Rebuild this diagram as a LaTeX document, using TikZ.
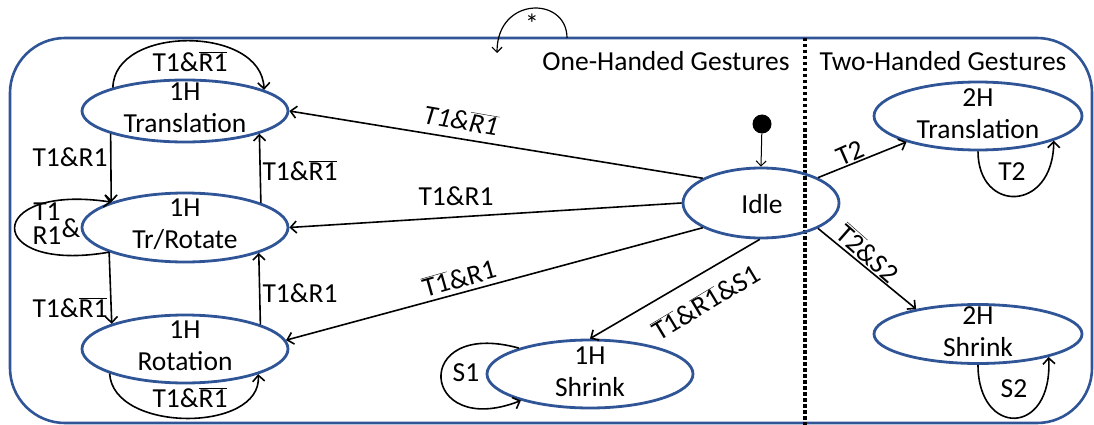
\documentclass[tikz,border=0pt]{standalone}
\usepackage{fontspec}
\setmainfont{Carlito}
\usetikzlibrary{arrows.meta,shapes.geometric}
\definecolor{sblue}{RGB}{47,85,151}
\newcommand{\ovl}[1]{$\overline{\mbox{#1}}$}
\begin{document}
\begin{tikzpicture}[x=1pt,y=-1pt,
  st/.style={ellipse,draw=sblue,line width=2.8pt,inner sep=0pt},
  tx/.style={font=\fontsize{27.5}{32}\selectfont,align=center,inner sep=0pt},
  lb/.style={font=\fontsize{27.5}{32}\selectfont,inner sep=0pt},
  arr/.style={line width=1.6pt,-{Straight Barb[length=6pt,width=12pt]}},
  loop/.style={line width=1.6pt,-{Straight Barb[length=6pt,width=12pt]}},
]
\useasboundingbox (0,0) rectangle (1094,425);
% frame
\draw[sblue,line width=2.6pt,rounded corners=55pt] (10,38) rectangle (1092,423);
\draw[line width=3.5pt,dash pattern=on 3.5pt off 2.5pt] (805,38) -- (805,425);
\node[lb] (h1) at (666,61) {One-Handed Gestures};
\node[lb] (h2) at (943,61) {Two-Handed Gestures};

% states
\node[st,minimum width=206pt,minimum height=62pt] (n1t) at (185,111) {};
\node[st,minimum width=206pt,minimum height=69pt] (n1tr) at (185,227.5) {};
\node[st,minimum width=206pt,minimum height=68pt] (n1r) at (185,349) {};
\node[st,minimum width=206pt,minimum height=68pt] (n1s) at (590,374) {};
\node[st,minimum width=156pt,minimum height=70pt] (idle) at (761,203) {};
\node[st,minimum width=208pt,minimum height=68pt] (n2t) at (978,116) {};
\node[st,minimum width=208pt,minimum height=59pt] (n2s) at (978,334) {};

\node[tx] (n1tT) at (185,108) {1H\\Translation};
\node[tx] (n1trT) at (185,224) {1H\\Tr/Rotate};
\node[tx] (n1rT) at (185,346) {1H\\Rotation};
\node[tx] (n1sT) at (590,372) {1H\\Shrink};
\node[tx] (idleT) at (762,204) {Idle};
\node[tx] (n2tT) at (978,114) {2H\\Translation};
\node[tx] (n2sT) at (978,332) {2H\\Shrink};

% initial
\node[circle,fill,inner sep=0pt,minimum size=19pt] (init) at (762,124) {};
\draw[line width=1pt,-{Straight Barb[length=5pt,width=10pt]}] (init) -- (idle.north);

% idle transitions
\draw[arr] (idle.157) -- (n1t.east);
\draw[arr] (idle.180) -- (n1tr.east);
\draw[arr] (idle.203) -- (n1r.5);
\draw[arr] (idle.268) -- (n1s.north);
\draw[arr] (idle.24) -- (n2t.200);
\draw[arr] (idle.336) -- (n2s.158);

\node[lb,rotate=-9.8] (l1) at (461,120) {\itshape T1\&\ovl{R1}};
\node[lb] (l2) at (456,196) {T1\&R1};
\node[lb,rotate=15.8] (l3) at (459,278) {\ovl{T1}\&R1};
\node[lb,rotate=31] (l4) at (706,302) {\ovl{T1}\&\ovl{R1}\&S1};
\node[lb,rotate=23.7] (l5) at (850,153) {T2};
\node[lb,rotate=-41.5] (l6) at (868,253) {\ovl{T2}\&S2};

% vertical transitions
\draw[arr] (n1t.197) -- (n1tr.161.1);
\draw[arr] (n1tr.18.4) -- (n1t.343.3);
\draw[arr] (n1tr.198.9) -- (n1r.161.4);
\draw[arr] (n1r.18.2) -- (n1tr.341.6);
\node[lb] (l7) at (70,157) {T1\&R1};
\node[lb] (l8) at (300,171) {T1\&\ovl{R1}};
\node[lb] (l9) at (70,308) {T1\&\ovl{R1}};
\node[lb] (l10) at (300,293) {T1\&R1};

% self loops
\draw[loop] (n1t.162) .. controls (114,25) and (262,25) .. (n1t.15);
\node[lb] (l11) at (190,62) {T1\&\ovl{R1}};
\draw[loop] (n1tr.198.9) .. controls (-17,274) and (-17,183) .. (n1tr.161.1);
\node[lb] (l12a) at (47,212) {T1};
\node[lb] (l12b) at (47,236) {R1};
\node[lb] (l12c) at (71,228) {\&};
\draw[loop] (n1r.198.6) .. controls (113,433) and (262,433) .. (n1r.341.8);
\node[lb] (l13) at (190,398) {T1\&\ovl{R1}};
\draw[loop] (n1s.160.4) .. controls (410,318) and (420,440) .. (n1s.201.9);
\node[lb] (l14) at (466,373) {S1};
\draw[loop] (n2t.270) .. controls (978,213) and (1053,213) .. (n2t.342.5);
\node[lb] (l15) at (1012,172) {T2};
\draw[loop] (n2s.270) .. controls (978,437) and (1053,437) .. (n2s.342.8);
\node[lb] (l16) at (1014,389) {S2};

% top loop
\coordinate (s1) at (567,38);
\coordinate (s2) at (497,53);
\draw[line width=1.2pt,-{Straight Barb[length=5pt,width=10pt]}] (s1) .. controls (567,-4) and (497,-4) .. (s2);
\node[lb] (star) at (532,24) {*};
\end{tikzpicture}
\end{document}
